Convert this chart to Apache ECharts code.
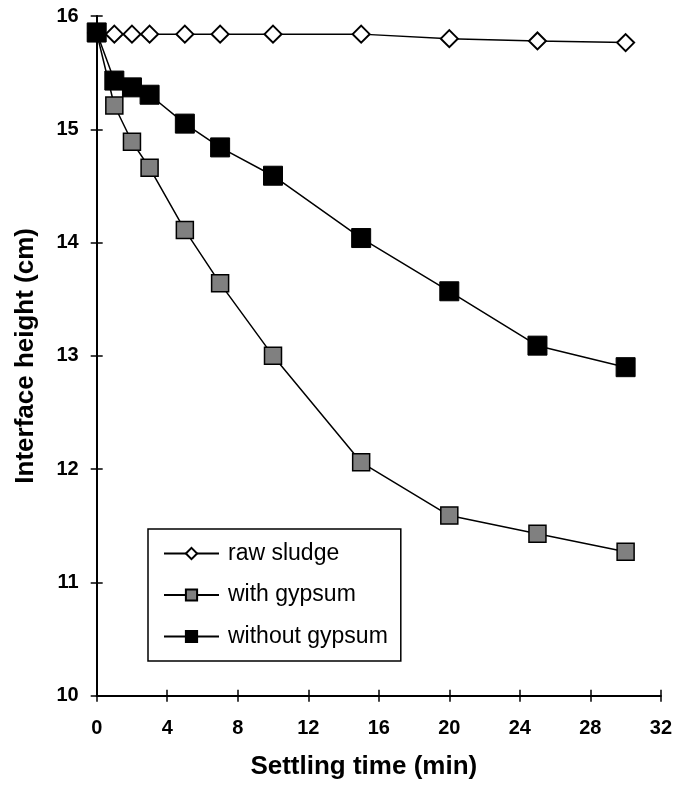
<!DOCTYPE html>
<html>
<head>
<meta charset="utf-8">
<script src="https://cdn.jsdelivr.net/npm/echarts@6/dist/echarts.min.js"></script>
<style>
html,body{margin:0;padding:0;background:#fff;}
#chart{width:675px;height:788px;}
</style>
</head>
<body>
<div id="chart"></div>
<script>
var timeMin = [0, 1, 2, 3, 5, 7, 10, 15, 20, 25, 30];
var rawSludge = [15.85, 15.84, 15.84, 15.84, 15.84, 15.84, 15.84, 15.84, 15.80, 15.78, 15.765];
var withGypsum = [15.85, 15.21, 14.89, 14.66, 14.11, 13.64, 13.00, 12.06, 11.59, 11.43, 11.27];
var withoutGypsum = [15.855, 15.43, 15.37, 15.305, 15.05, 14.84, 14.59, 14.04, 13.57, 13.09, 12.90];
var seriesNames = ['raw sludge', 'with gypsum', 'without gypsum'];
var xTitle = 'Settling time (min)';
var yTitle = 'Interface height (cm)';

function pairs(ys) {
  return timeMin.map(function (x, i) { return [x, ys[i]]; });
}

var FONT = "'Liberation Sans', Arial, sans-serif";
var chart = echarts.init(document.getElementById('chart'), null, {renderer: 'canvas'});

var axisLineStyle = {show: true, lineStyle: {color: '#000', width: 2}};
var tickStyle = {color: '#000', width: 1.5};

var option = {
  backgroundColor: '#fff',
  animation: false,
  grid: {left: 96.7, right: 12, top: 16, bottom: 92.3, containLabel: false},
  xAxis: [
    {
      type: 'value', min: 0, max: 32, interval: 4, position: 'bottom',
      axisLine: axisLineStyle,
      axisTick: {show: true, inside: false, length: 6, lineStyle: tickStyle},
      splitLine: {show: false},
      axisLabel: {fontFamily: FONT, fontWeight: 'bold', fontSize: 20, color: '#000', margin: 23},
      name: xTitle, nameLocation: 'middle', nameGap: 58,
      nameTextStyle: {fontFamily: FONT, fontWeight: 'bold', fontSize: 26, color: '#000', padding: [0, 30, 0, 0]}
    },
    {
      type: 'value', min: 0, max: 32, interval: 4, position: 'bottom', offset: 0,
      axisLine: {show: false},
      axisTick: {show: true, inside: true, length: 6, lineStyle: tickStyle},
      splitLine: {show: false},
      axisLabel: {show: false}
    }
  ],
  yAxis: [
    {
      type: 'value', min: 10, max: 16, interval: 1, position: 'left',
      axisLine: axisLineStyle,
      axisTick: {show: true, inside: false, length: 6, lineStyle: tickStyle},
      splitLine: {show: false},
      axisLabel: {fontFamily: FONT, fontWeight: 'bold', fontSize: 20, color: '#000', margin: 18},
      name: yTitle, nameLocation: 'middle', nameGap: 58, nameRotate: 90,
      nameTextStyle: {fontFamily: FONT, fontWeight: 'bold', fontSize: 26, color: '#000'}
    },
    {
      type: 'value', min: 10, max: 16, interval: 1, position: 'left', offset: 0,
      axisLine: {show: false},
      axisTick: {show: true, inside: true, length: 6, lineStyle: tickStyle},
      splitLine: {show: false},
      axisLabel: {show: false}
    }
  ],
  legend: {
    orient: 'vertical',
    left: 148, top: 529,
    padding: [13, 13, 13, 15],
    itemGap: 18.5,
    itemWidth: 55, itemHeight: 14,
    borderColor: '#000', borderWidth: 1.5, borderRadius: 0,
    backgroundColor: '#fff',
    textStyle: {fontFamily: FONT, fontSize: 23, lineHeight: 23, color: '#000', padding: [0, 0, 0, 4]},
    data: seriesNames
  },
  series: [
    {
      name: seriesNames[0], type: 'line', data: pairs(rawSludge),
      symbol: 'diamond', symbolSize: 17, showAllSymbol: true,
      lineStyle: {color: '#000', width: 1.5},
      itemStyle: {color: '#fff', borderColor: '#000', borderWidth: 2},
      z: 2
    },
    {
      name: seriesNames[1], type: 'line', data: pairs(withGypsum),
      symbol: 'rect', symbolSize: 17, showAllSymbol: true,
      lineStyle: {color: '#000', width: 1.5},
      itemStyle: {color: '#808080', borderColor: '#000', borderWidth: 1.5},
      z: 3
    },
    {
      name: seriesNames[2], type: 'line', data: pairs(withoutGypsum),
      symbol: 'rect', symbolSize: 19, showAllSymbol: true,
      lineStyle: {color: '#000', width: 1.5},
      itemStyle: {color: '#000', borderColor: '#000', borderWidth: 1},
      z: 4
    }
  ]
};
chart.setOption(option);
</script>
</body>
</html>
